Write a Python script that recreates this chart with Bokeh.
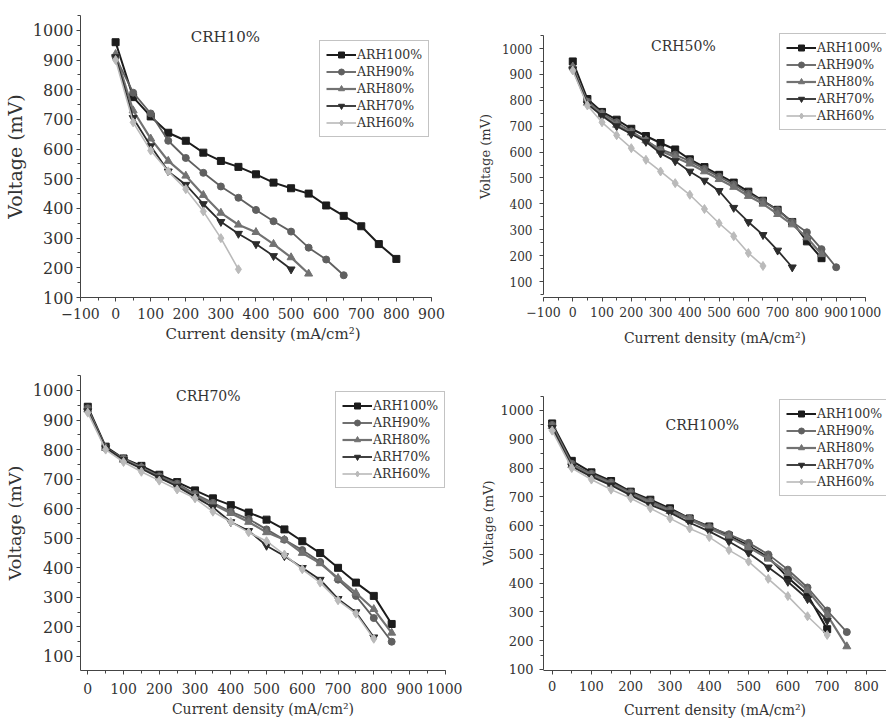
from bokeh.plotting import figure
from bokeh.models import Range1d, SingleIntervalTicker, Legend, LegendItem, Label
from bokeh.layouts import column, row
from bokeh.embed import file_html
from bokeh.resources import INLINE

# ---------------- data ----------------
CURRENT = [0, 50, 100, 150, 200, 250, 300, 350, 400, 450, 500, 550, 600, 650, 700, 750, 800, 850, 900]
SERIES = ["ARH100%", "ARH90%", "ARH80%", "ARH70%", "ARH60%"]

# CRH10%
crh10_arh100 = [960, 775, 710, 655, 628, 588, 560, 540, 515, 487, 468, 450, 410, 375, 340, 280, 230]
crh10_arh90 = [910, 790, 720, 628, 570, 520, 474, 436, 395, 357, 322, 268, 228, 175]
crh10_arh80 = [920, 730, 635, 560, 510, 445, 385, 345, 320, 280, 235, 180]
crh10_arh70 = [910, 705, 610, 525, 480, 415, 355, 315, 280, 240, 195]
crh10_arh60 = [900, 690, 595, 525, 465, 390, 300, 195]

# CRH50%
crh50_arh100 = [950, 805, 755, 725, 690, 662, 635, 610, 572, 542, 512, 482, 447, 412, 377, 330, 255, 190]
crh50_arh90 = [925, 795, 750, 715, 680, 645, 610, 590, 565, 535, 505, 475, 440, 410, 375, 330, 290, 225, 155]
crh50_arh80 = [930, 790, 745, 705, 675, 645, 605, 580, 555, 525, 495, 465, 430, 400, 360, 320, 270, 205]
crh50_arh70 = [920, 785, 740, 700, 670, 640, 595, 565, 525, 490, 450, 385, 330, 280, 220, 155]
crh50_arh60 = [915, 780, 715, 665, 615, 570, 525, 480, 435, 380, 325, 275, 210, 160]

# CRH70%
crh70_arh100 = [945, 810, 770, 745, 715, 690, 662, 635, 612, 587, 563, 530, 490, 450, 400, 350, 305, 210]
crh70_arh90 = [940, 805, 770, 740, 710, 685, 650, 620, 590, 565, 530, 495, 460, 420, 360, 305, 230, 150]
crh70_arh80 = [935, 805, 765, 740, 705, 680, 645, 615, 585, 555, 520, 495, 450, 415, 365, 315, 260, 180]
crh70_arh70 = [930, 805, 765, 735, 705, 675, 640, 605, 555, 525, 475, 440, 400, 360, 295, 250, 165]
crh70_arh60 = [925, 800, 758, 725, 695, 665, 635, 590, 555, 520, 490, 445, 395, 350, 290, 245, 160]

# CRH100%
crh100_arh100 = [955, 825, 785, 755, 718, 690, 660, 625, 597, 565, 530, 490, 420, 360, 240]
crh100_arh90 = [950, 815, 780, 750, 715, 685, 655, 625, 595, 570, 540, 500, 447, 385, 305, 230]
crh100_arh80 = [945, 810, 775, 745, 710, 680, 650, 620, 590, 560, 525, 485, 435, 375, 290, 180]
crh100_arh70 = [940, 805, 770, 740, 705, 672, 645, 610, 580, 545, 505, 455, 405, 345, 270]
crh100_arh60 = [930, 800, 760, 725, 695, 660, 625, 590, 560, 515, 475, 415, 355, 285, 220]

# ---------------- styles ----------------
FONT = "DejaVu Serif"
COLORS = ["#1c1c1c", "#606060", "#727272", "#2c2c2c", "#bababa"]
MARKERS = ["square", "circle", "triangle", "inverted_triangle", "diamond"]
MSIZES = [7, 7, 8, 8, 9]
LWIDTHS = [2.0, 1.8, 2.2, 1.8, 1.6]


def make_panel(cfg, data):
    left, right, top, bottom = cfg["borders"]
    p = figure(width=cfg["w"], height=cfg["h"],
               x_range=Range1d(*cfg["xr"]), y_range=Range1d(*cfg["yr"]),
               output_backend="svg", toolbar_location=None,
               min_border_left=left, min_border_right=right,
               min_border_top=top, min_border_bottom=bottom)
    p.outline_line_color = None
    p.grid.visible = False
    p.background_fill_color = "white"
    p.border_fill_color = "white"

    for ax in (p.xaxis[0], p.yaxis[0]):
        ax.ticker = SingleIntervalTicker(interval=100, num_minor_ticks=2)
        ax.axis_line_color = "#444444"
        ax.major_tick_line_color = "#444444"
        ax.minor_tick_line_color = "#444444"
        ax.major_tick_out = 4
        ax.major_tick_in = 0
        ax.minor_tick_out = 3
        ax.minor_tick_in = 0
        ax.major_label_text_font = FONT
        ax.major_label_text_color = "#333333"
        ax.axis_label_text_font = FONT
        ax.axis_label_text_font_style = "normal"
        ax.axis_label_text_color = "#333333"

    xa, ya = p.xaxis[0], p.yaxis[0]
    xa.axis_label = "Current density (mA/cm\u00b2)"
    ya.axis_label = "Voltage (mV)"
    xa.major_label_text_font_size = cfg["xtick_fs"]
    ya.major_label_text_font_size = cfg["ytick_fs"]
    xa.axis_label_text_font_size = cfg["xlab_fs"]
    ya.axis_label_text_font_size = cfg["ylab_fs"]
    xa.major_label_standoff = cfg["xtick_so"]
    xa.axis_label_standoff = cfg["xlab_so"]
    ya.major_label_standoff = cfg["ytick_so"]
    ya.axis_label_standoff = cfg["ylab_so"]
    if cfg.get("xbounds"):
        xa.bounds = cfg["xbounds"]
    if cfg.get("ybounds"):
        ya.bounds = cfg["ybounds"]
    xa.major_label_overrides = {-100: "\u2212100"}

    rends = []
    for i, ys in enumerate(data):
        xs = CURRENT[:len(ys)]
        l = p.line(xs, ys, line_color=COLORS[i], line_width=LWIDTHS[i])
        s = p.scatter(xs, ys, marker=MARKERS[i], size=MSIZES[i],
                      fill_color=COLORS[i], line_color=COLORS[i])
        rends.append((l, s))
    items = [LegendItem(label=name, renderers=list(rends[i])) for i, name in enumerate(SERIES)]

    legend = Legend(items=items, location=cfg["leg"],
                    label_text_font=FONT, label_text_font_size="12.5px",
                    label_text_color="#333333",
                    glyph_width=30, glyph_height=15, label_height=15,
                    label_standoff=1, spacing=2, padding=6, margin=0,
                    border_line_color="#888888", border_line_width=1.2,
                    background_fill_color="white", background_fill_alpha=1)
    p.add_layout(legend)

    p.add_layout(Label(x=cfg["title_xy"][0], y=cfg["title_xy"][1], text=cfg["title"],
                       text_align="center", text_baseline="middle",
                       text_font=FONT, text_font_size=cfg["title_fs"], text_color="#333333"))
    return p


cfg1 = dict(w=462, h=352, borders=(80, 17, 15, 55), xr=(-100, 940), yr=(100, 1050),
            xbounds=(-100, 900), ybounds=None,
            xtick_fs="14px", ytick_fs="16px", xlab_fs="15px", ylab_fs="19px",
            xtick_so=6, xlab_so=3, ytick_so=3, ylab_so=4,
            title="CRH10%", title_xy=(313, 976), title_fs="15px", leg=(239, 160))
cfg2 = dict(w=424, h=352, borders=(81, 0, 15, 55), xr=(-100, 1072), yr=(38.2, 1127.5),
            xbounds=(-100, 1000), ybounds=(50, 1050),
            xtick_fs="12.5px", ytick_fs="12px", xlab_fs="14px", ylab_fs="13px",
            xtick_so=5, xlab_so=10, ytick_so=7, ylab_so=6,
            title="CRH50%", title_xy=(378, 1011), title_fs="14px", leg=(236, 167))
cfg3 = dict(w=462, h=370, borders=(80, 17, 23, 52), xr=(-20.4, 1000.6), yr=(52.6, 1050.7),
            xbounds=None, ybounds=None,
            xtick_fs="14px", ytick_fs="16px", xlab_fs="14px", ylab_fs="17.5px",
            xtick_so=8, xlab_so=4, ytick_so=3, ylab_so=5,
            title="CRH70%", title_xy=(337, 980), title_fs="14px", leg=(255, 182))
cfg4 = dict(w=424, h=370, borders=(81, 0, 23, 52), xr=(-22, 851), yr=(96.5, 1121.6),
            xbounds=None, ybounds=(100, 1050),
            xtick_fs="13px", ytick_fs="13px", xlab_fs="14px", ylab_fs="13px",
            xtick_so=6, xlab_so=8, ytick_so=6, ylab_so=1,
            title="CRH100%", title_xy=(382, 948), title_fs="14px", leg=(236, 174))

p1 = make_panel(cfg1, [crh10_arh100, crh10_arh90, crh10_arh80, crh10_arh70, crh10_arh60])
p2 = make_panel(cfg2, [crh50_arh100, crh50_arh90, crh50_arh80, crh50_arh70, crh50_arh60])
p3 = make_panel(cfg3, [crh70_arh100, crh70_arh90, crh70_arh80, crh70_arh70, crh70_arh60])
p4 = make_panel(cfg4, [crh100_arh100, crh100_arh90, crh100_arh80, crh100_arh70, crh100_arh60])

layout = column(row(p1, p2), row(p3, p4))
open("out.html", "w").write(file_html(layout, INLINE))
